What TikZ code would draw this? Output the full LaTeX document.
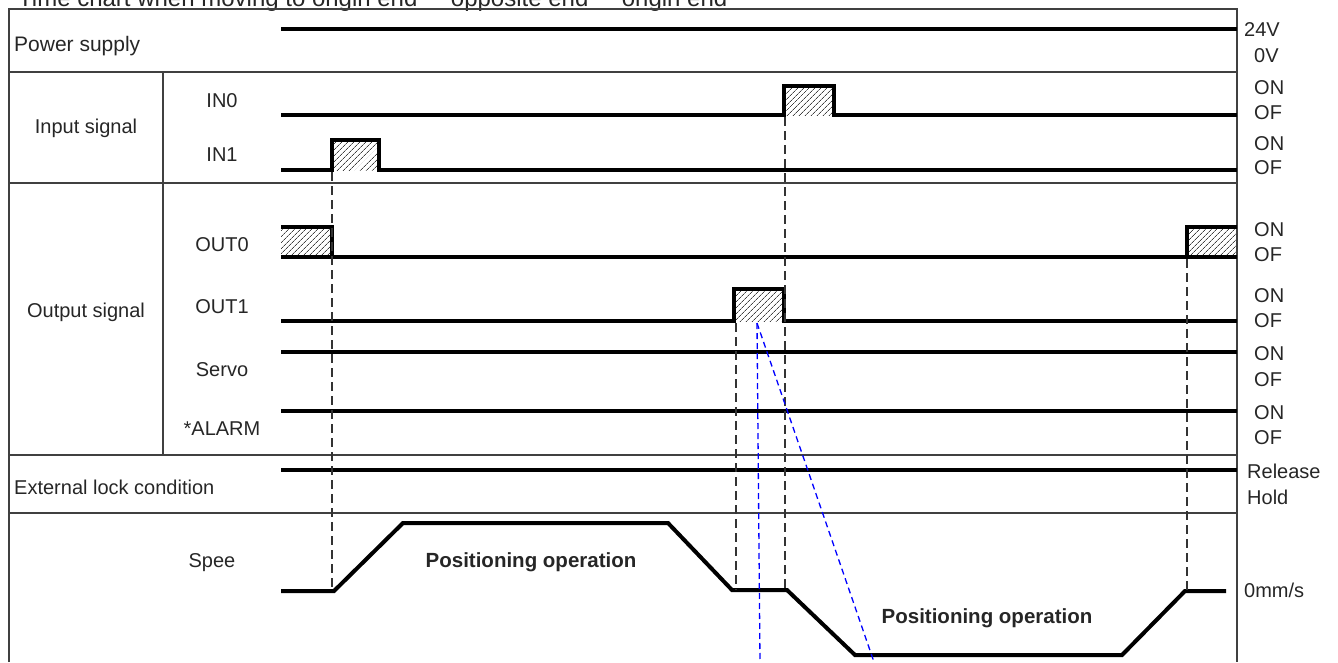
\documentclass[tikz,border=0pt]{standalone}
\usepackage{fontspec}
\setmainfont{Liberation Sans}
\newfontfamily\symfont{DejaVu Sans}
\usetikzlibrary{patterns.meta}
\begin{document}
\begin{tikzpicture}[x=1pt,y=-1pt,
  frame/.style={line width=1.5pt, draw=black!75},
  sig/.style={line width=4pt, line join=miter},
  hatch/.style={pattern={Lines[angle=45,distance=4pt,line width=0.8pt]}, pattern color=black!75},
  guide/.style={dash pattern=on 9pt off 5pt, line width=1.3pt, draw=black!80},
  blueguide/.style={dash pattern=on 6pt off 4pt, line width=1.3pt, draw=blue},
  lbl/.style={font=\fontsize{20}{24}\selectfont, inner sep=0pt, text=black!85},
  big/.style={font=\fontsize{21}{25}\selectfont, inner sep=0pt, text=black!85},
  bold/.style={font=\fontsize{20.5}{24}\selectfont\bfseries, inner sep=0pt, text=black!85},
  rl/.style={lbl, anchor=west}
]
\useasboundingbox (0,0) rectangle (1338,662);
\clip (0,0) rectangle (1338,662);

% title (cut off at the top, as in the reference)
\node[font=\fontsize{24}{28}\selectfont, inner sep=0pt, anchor=base west, text=black!85] (title) at (18,6)
  {Time chart when moving to origin end \raisebox{4pt}{\symfont →} opposite end \raisebox{4pt}{\symfont →} origin end};

% frame
\draw[frame] (9,662) -- (9,9) -- (1237,9) -- (1237,662);
\draw[frame] (9,72) -- (1237,72);
\draw[frame] (9,183) -- (1237,183);
\draw[frame] (9,455) -- (1237,455);
\draw[frame] (9,513) -- (1237,513);
\draw[frame] (163,72) -- (163,455);

% left labels
\node[big, anchor=west] (lpow) at (14,46) {Power supply};
\node[lbl] (lin) at (86,128) {Input signal};
\node[lbl] (lin0) at (222,101) {IN0};
\node[lbl] (lin1) at (222,155) {IN1};
\node[lbl] (lout) at (86,312) {Output signal};
\node[lbl] (lout0) at (222,245) {OUT0};
\node[lbl] (lout1) at (222,307) {OUT1};
\node[lbl] (lservo) at (222,370) {Servo};
\node[lbl] (lalarm) at (222,429) {*ALARM};
\node[lbl, anchor=west] (llock) at (14,487) {External lock condition};
\node[lbl] (lspeed) at (212,563) {Spee};

% right labels
\node[rl] (r24) at (1244,30) {24V};
\node[rl] (r0) at (1254,56) {0V};
\node[rl] (rin0on) at (1254,88) {ON};
\node[rl] (rin0of) at (1254,113) {OF};
\node[rl] (rin1on) at (1254,144) {ON};
\node[rl] (rin1of) at (1254,168) {OF};
\node[rl] (rout0on) at (1254,230) {ON};
\node[rl] (rout0of) at (1254,255) {OF};
\node[rl] (rout1on) at (1254,296) {ON};
\node[rl] (rout1of) at (1254,321) {OF};
\node[rl] (rservoon) at (1254,354) {ON};
\node[rl] (rservoof) at (1254,380) {OF};
\node[rl] (ralon) at (1254,413) {ON};
\node[rl] (ralof) at (1254,438) {OF};
\node[rl] (rrel) at (1247,471) {Release};
\node[rl] (rhold) at (1247,497) {Hold};
\node[rl] (rzero) at (1244,590) {0mm/s};

% hatched pulses
\fill[hatch] (332,140) rectangle (379,170);
\fill[hatch] (784,86) rectangle (834,115);
\fill[hatch] (281,227) rectangle (332,257);
\fill[hatch] (1187,227) rectangle (1237,257);
\fill[hatch] (734,289) rectangle (784,321);

% signals
\draw[sig] (281,29) -- (1237,29);
\draw[sig] (281,115) -- (784,115) -- (784,86) -- (834,86) -- (834,115) -- (1237,115);
\draw[sig] (281,170) -- (332,170) -- (332,140) -- (379,140) -- (379,170) -- (1237,170);
\draw[sig] (281,257) -- (1237,257);
\draw[sig] (281,227) -- (332,227) -- (332,257);
\draw[sig] (1187,257) -- (1187,227) -- (1237,227);
\draw[sig] (281,321) -- (734,321) -- (734,289) -- (784,289) -- (784,321) -- (1237,321);
\draw[sig] (281,352) -- (1237,352);
\draw[sig] (281,411) -- (1237,411);
\draw[sig] (281,470) -- (1237,470);
\draw[sig] (281,591) -- (334,591) -- (403,523) -- (668,523) -- (732,590) -- (787,590)
  -- (855,655) -- (1122,655) -- (1185,591) -- (1226,591);

% operation labels
\node[bold] (op1) at (531,562) {Positioning operation};
\node[bold] (op2) at (987,618) {Positioning operation};

% guide coordinates
\coordinate (g1a) at (332,172);
\coordinate (g1b) at (332,591);
\coordinate (g2a) at (785,117);
\coordinate (g2b) at (785,590);
\coordinate (g3a) at (736,323);
\coordinate (g3b) at (736,590);
\coordinate (g4a) at (1187,259);
\coordinate (g4b) at (1187,590);
\coordinate (b0) at (757,323);
\coordinate (b1) at (760,662);
\coordinate (b2) at (874,662);

\draw[guide] (g1a) -- (g1b);
\draw[guide] (g2a) -- (g2b);
\draw[guide] (g3a) -- (g3b);
\draw[guide] (g4a) -- (g4b);
\draw[blueguide] (b0) -- (b1);
\draw[blueguide] (b0) -- (b2);
\end{tikzpicture}
\end{document}
